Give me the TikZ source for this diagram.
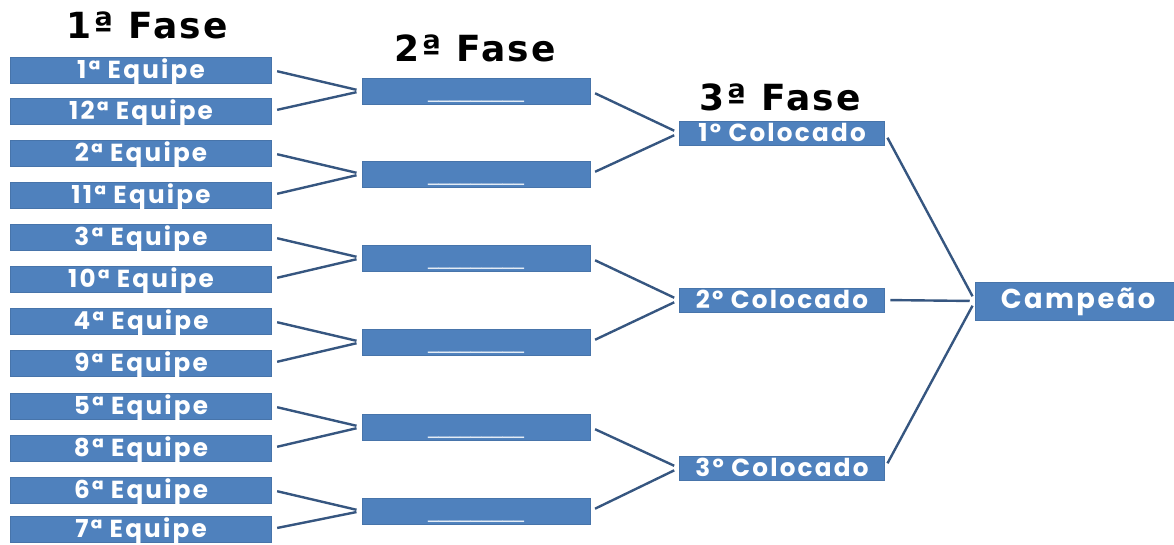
\documentclass[tikz,border=0pt]{standalone}
\usepackage{fontspec}
\newfontfamily\boxfont[LetterSpace=9]{Poppins}
\newfontfamily\titlefont[LetterSpace=6]{DejaVu Sans}
\newfontfamily\linefont{DejaVu Sans}
\definecolor{boxblue}{RGB}{79,129,189}
\definecolor{lineblue}{RGB}{54,86,128}

\begin{document}
\begin{tikzpicture}[x=0.75pt,y=0.75pt,yscale=-1,xscale=1,
    box/.style={fill=boxblue, draw=boxblue!90!black, line width=0.4pt, inner sep=0pt, text=white,
        font=\boxfont\bfseries\fontsize{18.5}{20}\selectfont, text height=12pt, text depth=0pt},
    team/.style={box, minimum width=196pt, minimum height=19.5pt},
    winner/.style={box, minimum width=171pt, minimum height=19.5pt, text height=9.5pt,
        font=\linefont\fontsize{16}{18}\selectfont, text=white!85!boxblue},
    place/.style={box, minimum width=154pt, minimum height=18pt, text height=12pt,
        font=\boxfont\bfseries\fontsize{18.5}{20}\selectfont},
    champ/.style={box, minimum width=154pt, minimum height=28.5pt, text height=10.5pt,
        font=\boxfont\bfseries\fontsize{20.5}{22}\selectfont},
    fase/.style={font=\titlefont\bfseries\fontsize{27}{30}\selectfont},
    link/.style={draw=lineblue, line width=1.8pt, shorten <=4pt, shorten >=4pt}]
    \useasboundingbox (0,0) rectangle (1174,544);

    % Titles
    \node[fase] (fase1) at (147,25) {1ª Fase};
    \node[fase] (fase2) at (475,48) {2ª Fase};
    \node[fase] (fase3) at (780,97) {3ª Fase};

    % 1a fase
    \node[team] (eq1)  at (141,70)  {1ª Equipe};
    \node[team] (eq12) at (141,111) {12ª Equipe};
    \node[team] (eq2)  at (141,153) {2ª Equipe};
    \node[team] (eq11) at (141,195) {11ª Equipe};
    \node[team] (eq3)  at (141,237) {3ª Equipe};
    \node[team] (eq10) at (141,279) {10ª Equipe};
    \node[team] (eq4)  at (141,321) {4ª Equipe};
    \node[team] (eq9)  at (141,363) {9ª Equipe};
    \node[team] (eq5)  at (141,406) {5ª Equipe};
    \node[team] (eq8)  at (141,448) {8ª Equipe};
    \node[team] (eq6)  at (141,490) {6ª Equipe};
    \node[team] (eq7)  at (141,529) {7ª Equipe};

    % 2a fase
    \node[winner] (venc1) at (476,91)  {\_\_\_\_\_\_\_\_\_};
    \node[winner] (venc2) at (476,174) {\_\_\_\_\_\_\_\_\_};
    \node[winner] (venc3) at (476,258) {\_\_\_\_\_\_\_\_\_};
    \node[winner] (venc4) at (476,342) {\_\_\_\_\_\_\_\_\_};
    \node[winner] (venc5) at (476,427) {\_\_\_\_\_\_\_\_\_};
    \node[winner] (venc6) at (476,511) {\_\_\_\_\_\_\_\_\_};

    % 3a fase
    \node[place] (col1) at (782,133) {1º Colocado};
    \node[place] (col2) at (782,300) {2º Colocado};
    \node[place] (col3) at (782,468) {3º Colocado};

    % Campeao
    \node[champ] (camp) at (1078,301) {Campeão};

    % Links 1a -> 2a
    \draw[link] (eq1.east)  -- (venc1.west);
    \draw[link] (eq12.east) -- (venc1.west);
    \draw[link] (eq2.east)  -- (venc2.west);
    \draw[link] (eq11.east) -- (venc2.west);
    \draw[link] (eq3.east)  -- (venc3.west);
    \draw[link] (eq10.east) -- (venc3.west);
    \draw[link] (eq4.east)  -- (venc4.west);
    \draw[link] (eq9.east)  -- (venc4.west);
    \draw[link] (eq5.east)  -- (venc5.west);
    \draw[link] (eq8.east)  -- (venc5.west);
    \draw[link] (eq6.east)  -- (venc6.west);
    \draw[link] (eq7.east)  -- (venc6.west);

    % Links 2a -> 3a
    \draw[link] (venc1.east) -- (col1.west);
    \draw[link] (venc2.east) -- (col1.west);
    \draw[link] (venc3.east) -- (col2.west);
    \draw[link] (venc4.east) -- (col2.west);
    \draw[link] (venc5.east) -- (col3.west);
    \draw[link] (venc6.east) -- (col3.west);

    % Links 3a -> campeao
    \draw[link] (col1.east) -- (camp.west);
    \draw[link] (col2.east) -- (camp.west);
    \draw[link] (col3.east) -- (camp.west);
\end{tikzpicture}
\end{document}
